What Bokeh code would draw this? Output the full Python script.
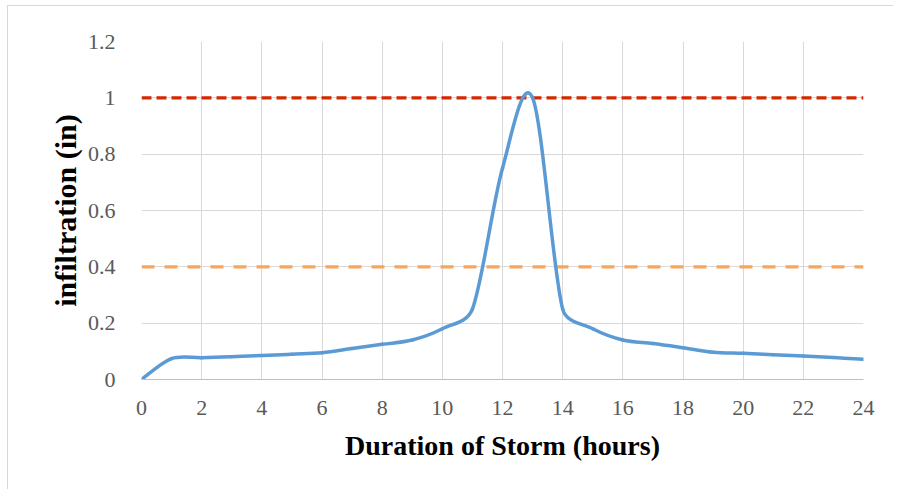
import numpy as np
from bokeh.plotting import figure
from bokeh.models import FixedTicker, ColumnDataSource
from bokeh.embed import file_html
from bokeh.resources import INLINE

# ---- data ----
hours = [0, 1, 2, 3, 4, 5, 6, 7, 8, 9, 10, 11, 12, 13, 14, 15, 16, 17, 18, 19, 20, 21, 22, 23, 24]
infiltration = [0.0, 0.074, 0.077, 0.081, 0.085, 0.090, 0.095, 0.110, 0.125, 0.140, 0.180, 0.250,
                0.750, 1.000, 0.250, 0.180, 0.140, 0.128, 0.113, 0.097, 0.093, 0.088, 0.083, 0.078, 0.072]
upper_limit = [1.0, 1.0]
lower_limit = [0.4, 0.4]
limit_hours = [0, 24]
x_ticks = [0, 2, 4, 6, 8, 10, 12, 14, 16, 18, 20, 22, 24]
y_ticks = [0, 0.2, 0.4, 0.6, 0.8, 1.0, 1.2]
y_tick_labels = ["0", "0.2", "0.4", "0.6", "0.8", "1", "1.2"]

SERIF = "Liberation Serif"
FRAME_W, FRAME_H = 722, 338
X_MIN, X_MAX, Y_MIN, Y_MAX = 0, 24, 0, 1.2

p = figure(output_backend="svg", toolbar_location=None,
           frame_width=FRAME_W, frame_height=FRAME_H,
           x_range=(X_MIN, X_MAX), y_range=(Y_MIN, Y_MAX),
           min_border_left=133, min_border_right=30,
           min_border_top=35, min_border_bottom=110,
           background_fill_color="white", border_fill_color="white")
p.margin = (5, 0, 0, 7)
p.styles = {"border-top": "1px solid #d9d9d9", "border-left": "1px solid #d9d9d9"}
p.outline_line_color = None

# grid
p.xgrid.ticker = FixedTicker(ticks=x_ticks)
p.ygrid.ticker = FixedTicker(ticks=y_ticks)
p.xgrid.grid_line_color = "#d9d9d9"
p.ygrid.grid_line_color = "#d9d9d9"
p.xgrid.grid_line_width = 1
p.ygrid.grid_line_width = 1

# axes
p.xaxis.ticker = FixedTicker(ticks=x_ticks)
p.yaxis.ticker = FixedTicker(ticks=y_ticks)
p.yaxis.major_label_overrides = {t: l for t, l in zip(y_ticks, y_tick_labels)}
for ax in (p.xaxis[0], p.yaxis[0]):
    ax.major_tick_line_color = None
    ax.minor_tick_line_color = None
    ax.major_label_text_font = SERIF
    ax.major_label_text_font_size = "22px"
    ax.major_label_text_color = "#595959"
    ax.axis_label_text_font = SERIF
    ax.axis_label_text_font_style = "bold"
    ax.axis_label_text_color = "#000000"
p.xaxis.axis_label_text_font_size = "28px"
p.yaxis.axis_label_text_font_size = "30px"
p.xaxis.major_label_standoff = 15
p.yaxis.major_label_standoff = 20
p.xaxis.axis_line_color = "#bfbfbf"
p.yaxis.axis_line_color = None
p.xaxis.axis_label = "Duration of Storm (hours)"
p.yaxis.axis_label = "infiltration (in)"
p.xaxis.axis_label_standoff = 12
p.yaxis.axis_label_standoff = 3

# threshold lines
p.line(limit_hours, upper_limit, line_color="#D22A00", line_width=3.2, line_dash="10 5")
p.line(limit_hours, lower_limit, line_color="#F8A65C", line_width=3.2, line_dash="13 10")

# smoothed curve: bezier segments through the data points (Excel-like smoothing,
# control vectors limited relative to the adjacent segment length in screen space)
sx = FRAME_W / (X_MAX - X_MIN)
sy = FRAME_H / (Y_MAX - Y_MIN)
x = np.array(hours, dtype=float)
y = np.array(infiltration, dtype=float)
xp = np.concatenate([[x[0]], x, [x[-1]]])
yp = np.concatenate([[y[0]], y, [y[-1]]])
tx = (xp[2:] - xp[:-2]) / 6.0 * sx
ty = (yp[2:] - yp[:-2]) / 6.0 * sy
tlen = np.hypot(tx, ty)
seg = np.hypot(np.diff(x) * sx, np.diff(y) * sy)
K = 0.4


def scaled(i, seglen):
    if tlen[i] == 0:
        return 0.0, 0.0
    f = min(1.0, K * seglen / tlen[i])
    return tx[i] * f / sx, ty[i] * f / sy


cx0, cy0, cx1, cy1 = [], [], [], []
for i in range(len(x) - 1):
    ax_, ay_ = scaled(i, seg[i])
    bx_, by_ = scaled(i + 1, seg[i])
    cx0.append(x[i] + ax_)
    cy0.append(y[i] + ay_)
    cx1.append(x[i + 1] - bx_)
    cy1.append(y[i + 1] - by_)

src = ColumnDataSource(dict(x0=x[:-1], y0=y[:-1], x1=x[1:], y1=y[1:],
                            cx0=cx0, cy0=cy0, cx1=cx1, cy1=cy1))
p.bezier(x0="x0", y0="y0", x1="x1", y1="y1", cx0="cx0", cy0="cy0", cx1="cx1", cy1="cy1",
         source=src, line_color="#5B9BD5", line_width=3.5, line_cap="round")

open("out.html", "w").write(file_html(p, INLINE))
